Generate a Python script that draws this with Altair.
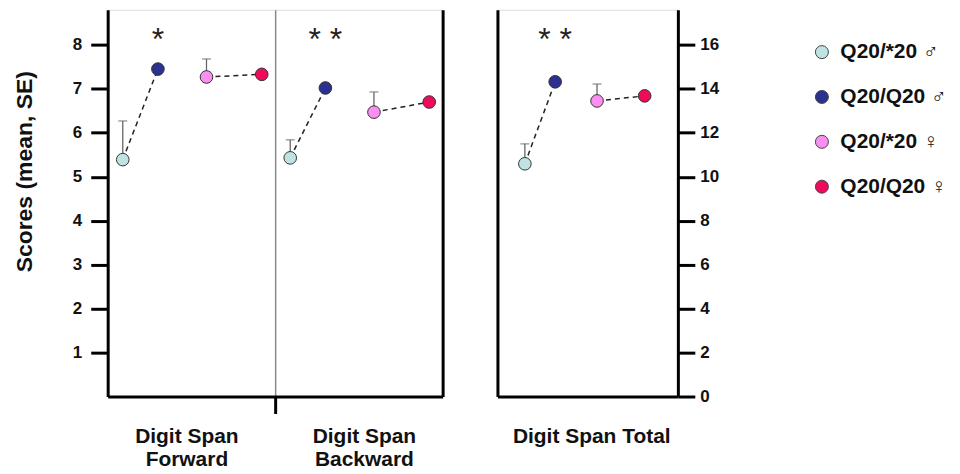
import altair as alt
import pandas as pd

FONT = "Liberation Sans"

groups = ["Digit Span Forward", "Digit Span Backward", "Digit Span Total"]
genotypes = ["Q20/*20 ♂", "Q20/Q20 ♂", "Q20/*20 ♀", "Q20/Q20 ♀"]
sexes = ["male", "male", "female", "female"]
colors = ["#bfe3e3", "#2c318f", "#fb8ff1", "#ef0b5c"]

forward_mean = [5.39, 7.45, 7.27, 7.33]
forward_se = [0.88, None, 0.41, None]
backward_mean = [5.43, 7.02, 6.47, 6.70]
backward_se = [0.41, None, 0.46, None]
total_mean = [10.59, 14.32, 13.45, 13.68]
total_se = [0.91, None, 0.77, None]
stars = ["*", "* *", "* *"]

# position of each genotype inside its group (group width = 1)
slot = [0.09, 0.30, 0.59, 0.92]


def frame(gi, means, ses, base):
    rows = []
    for k, g in enumerate(genotypes):
        rows.append(dict(
            group=groups[gi], genotype=g, pair=f"{groups[gi]}-{sexes[k]}",
            x=base + slot[k], mean=means[k], se=ses[k],
            hi=None if ses[k] is None else means[k] + ses[k]))
    return rows


left_df = pd.DataFrame(frame(0, forward_mean, forward_se, 0) + frame(1, backward_mean, backward_se, 1))
right_df = pd.DataFrame(frame(2, total_mean, total_se, 0))
left_stars = pd.DataFrame({"x": [0 + slot[1], 1 + slot[1]], "text": stars[:2]})
right_stars = pd.DataFrame({"x": [slot[1]], "text": stars[2:]})

line1 = groups[0].rsplit(" ", 1)[0]
lbl_expr = ("datum.value == 1 ? '' : datum.value < 1 ? ['%s', '%s'] : ['%s', '%s']"
            % (line1, groups[0].split(" ")[-1], line1, groups[1].split(" ")[-1]))

only_one = {"condition": {"test": "datum.value == 1", "value": 1}, "value": 0}

x_left = alt.X(
    "x:Q", scale=alt.Scale(domain=[0, 2], nice=False, zero=False),
    axis=alt.Axis(values=[0.47, 1, 1.53], labelExpr=lbl_expr, title=None,
                  domainWidth=3, domainColor="black", tickColor="black", tickWidth=3,
                  tickSize=17, tickOpacity=only_one, grid=True, gridColor="#8a8a8a",
                  gridWidth=1.5, gridOpacity=only_one, labelFont=FONT, labelFontSize=21,
                  labelFontWeight="bold", labelColor="#111", labelPadding=12,
                  labelLineHeight=23))

x_right = alt.X(
    "x:Q", scale=alt.Scale(domain=[-0.1, 1.15], nice=False, zero=False),
    axis=alt.Axis(values=[0.55], labelExpr="'%s'" % groups[2], title=None,
                  domainWidth=3, domainColor="black", ticks=False, grid=False,
                  labelFont=FONT, labelFontSize=21, labelFontWeight="bold",
                  labelColor="#111", labelPadding=29))

ys_left = alt.Scale(domain=[0, 8.8], nice=False, zero=True)
ys_right = alt.Scale(domain=[0, 17.6], nice=False, zero=True)

ax_left = alt.Axis(values=list(range(1, 9)), title="Scores (mean, SE)", orient="left",
                   domainWidth=3, domainColor="black", tickColor="black", tickWidth=3,
                   tickSize=17, grid=False, labelFont=FONT, labelFontSize=17,
                   labelFontWeight="bold", labelColor="#111", labelPadding=9,
                   titleFont=FONT, titleFontSize=23, titleFontWeight="bold",
                   titleColor="#111", titlePadding=36, titleY=162)
ax_right = alt.Axis(values=list(range(0, 17, 2)), title=None, orient="right",
                    domainWidth=3, domainColor="black", tickColor="black", tickWidth=3,
                    tickSize=17, grid=False, labelFont=FONT, labelFontSize=17,
                    labelFontWeight="bold", labelColor="#111", labelPadding=5)


def blank_axis(orient):
    return alt.Axis(orient=orient, labels=False, ticks=False, grid=False, domainWidth=3,
                    domainColor="black", title=None)


fill_scale = alt.Scale(domain=genotypes, range=colors)
legend = alt.Legend(title=None, orient="none", legendX=706, legendY=32, symbolType="circle",
                    symbolSize=170, symbolStrokeColor="#444", symbolStrokeWidth=1,
                    labelFont=FONT, labelFontSize=21, labelFontWeight="bold",
                    labelColor="#111", rowPadding=23, labelOffset=8, labelLimit=300)


def panel(df, sdf, xdef, ys, ax, other_orient, star_y, leg):
    base = alt.Chart(df)
    lines = base.mark_line(strokeDash=[5, 4], color="#222", strokeWidth=1.5).encode(
        x=xdef, y=alt.Y("mean:Q", scale=ys, axis=ax), detail="pair:N")
    err = base.transform_filter("isValid(datum.se)").mark_rule(
        color="#666", strokeWidth=1.3).encode(
        x=xdef, y=alt.Y("mean:Q", scale=ys, axis=ax), y2="hi:Q")
    cap = base.transform_filter("isValid(datum.se)").mark_tick(
        color="#666", thickness=1.3, size=9, orient="horizontal").encode(
        x=xdef, y=alt.Y("hi:Q", scale=ys, axis=ax))
    pts = base.mark_circle(size=160, opacity=1, stroke="#333", strokeWidth=1).encode(
        x=xdef, y=alt.Y("mean:Q", scale=ys, axis=ax),
        fill=alt.Fill("genotype:N", scale=fill_scale, legend=leg))
    txt = alt.Chart(sdf).mark_text(font=FONT, fontSize=32, color="#222",
                                   baseline="middle").encode(
        x=xdef, y=alt.Y(datum=star_y, type="quantitative", scale=ys, axis=ax),
        text="text:N")
    main = alt.layer(lines, err, cap, pts, txt)
    dummy = base.mark_point(opacity=0).encode(
        x=xdef, y=alt.Y("mean:Q", scale=ys, axis=blank_axis(other_orient)))
    return alt.layer(main, dummy).resolve_scale(y="independent")


left = panel(left_df, left_stars, x_left, ys_left, ax_left, "right", 8.12, legend).properties(
    width=336, height=388)
right = panel(right_df, right_stars, x_right, ys_right, ax_right, "left", 16.24, None).properties(
    width=181, height=388)

chart = alt.hconcat(left, right, spacing=53).properties(
    padding={"left": 5, "top": 0, "right": 5, "bottom": 5}
).configure_view(stroke=None).configure(font=FONT)

chart.save("out.html", embed_options={"renderer": "svg", "actions": False})
